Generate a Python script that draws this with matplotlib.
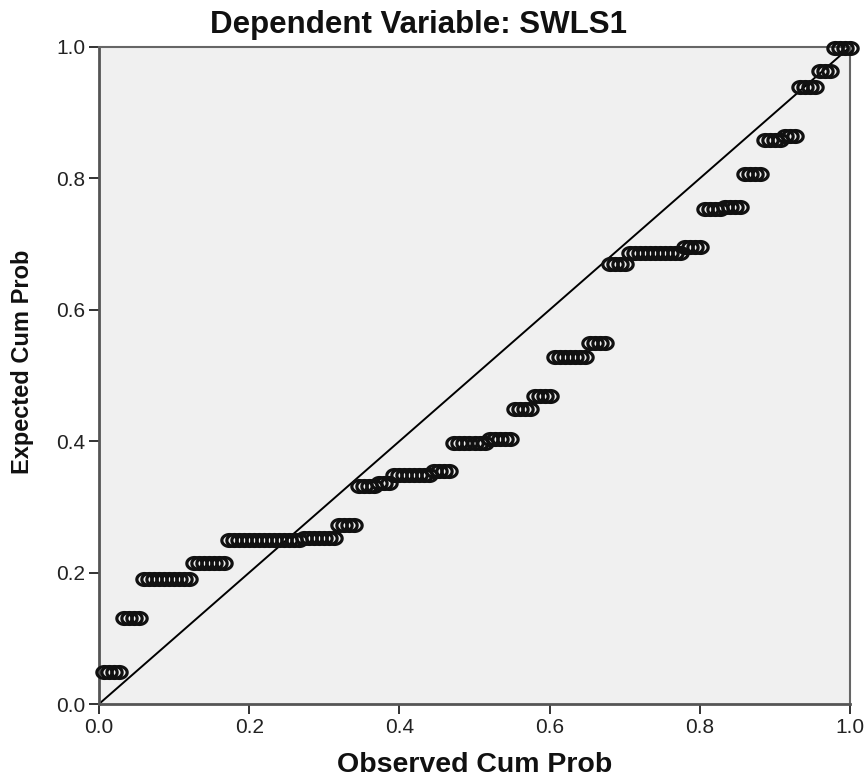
import numpy as np
import matplotlib
matplotlib.use("Agg")
import matplotlib.pyplot as plt
from matplotlib.path import Path

# Distinct expected cumulative probabilities (tied residual groups) and their frequencies
expected_values = [0.048, 0.131, 0.190, 0.215, 0.250, 0.253, 0.273, 0.332, 0.337, 0.3485,
                   0.355, 0.398, 0.403, 0.4485, 0.469, 0.528, 0.550, 0.670, 0.687, 0.695,
                   0.753, 0.756, 0.807, 0.858, 0.8645, 0.9386, 0.964, 0.998]
group_counts = [4, 4, 10, 7, 15, 7, 4, 4, 3, 8,
                4, 7, 5, 4, 4, 7, 4, 4, 11, 4,
                4, 4, 4, 4, 3, 4, 3, 4]

tick_values = [0.0, 0.2, 0.4, 0.6, 0.8, 1.0]
tick_labels = ["0.0", "0.2", "0.4", "0.6", "0.8", "1.0"]

title_text = "Dependent Variable: SWLS1"
x_label = "Observed Cum Prob"
y_label = "Expected Cum Prob"

n = sum(group_counts)
observed = np.arange(1, n + 1) / n
expected = np.repeat(expected_values, group_counts)

plt.rcParams['font.family'] = ['Liberation Sans', 'DejaVu Sans']

W, H = 866, 778
fig = plt.figure(figsize=(W / 100, H / 100), dpi=100)
fig.patch.set_facecolor("white")

ax = fig.add_axes([99 / W, 1 - 704 / H, (850 - 99) / W, (704 - 47) / H])
ax.set_facecolor("#f0f0f0")
ax.set_xlim(0, 1)
ax.set_ylim(0, 1)

# diagonal reference line
ax.plot([0, 1], [0, 1], color="black", lw=1.4, zorder=2, transform=ax.transAxes)

# elliptical open markers (the reference is horizontally stretched)
t = np.linspace(0, 2 * np.pi, 64)
ell = Path(np.column_stack([np.cos(t), 0.78 * np.sin(t)]), closed=True)
ax.plot(observed, expected, linestyle="none", marker=ell, markersize=11,
        markerfacecolor="none", markeredgecolor="#111111", markeredgewidth=2.3,
        zorder=3, clip_on=False)

ax.set_xticks(tick_values)
ax.set_xticklabels(tick_labels)
ax.set_yticks(tick_values)
ax.set_yticklabels(tick_labels)
ax.tick_params(axis="both", direction="out", length=7, width=1.3, color="#222222",
               labelsize=15, labelcolor="#222222", pad=3)
ax.tick_params(top=False, right=False)

for side in ["left", "bottom"]:
    ax.spines[side].set_color("#555555")
    ax.spines[side].set_linewidth(2.0)
for side in ["top", "right"]:
    ax.spines[side].set_color("#666666")
    ax.spines[side].set_linewidth(1.5)

fig.text(418 / W, 1 - 33 / H, title_text, ha="center", va="baseline",
         fontsize=22.5, fontweight="bold", color="#111111")
fig.text(475 / W, 1 - 772 / H, x_label, ha="center", va="baseline",
         fontsize=20.5, fontweight="bold", color="#111111")
fig.text(23 / W, 1 - 362 / H, y_label, ha="center", va="center", rotation=90,
         fontsize=17, fontweight="bold", color="#111111")

fig.savefig("out.png", dpi=100, facecolor="white")
